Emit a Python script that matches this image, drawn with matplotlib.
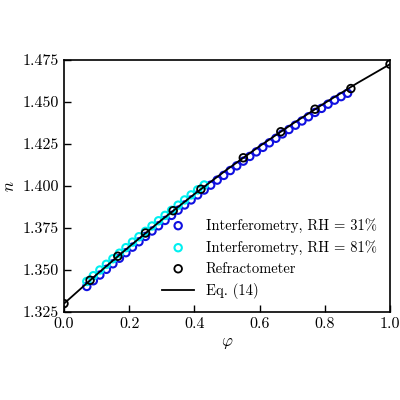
import matplotlib
matplotlib.use('Agg')
import matplotlib.pyplot as plt

plt.rcParams['font.family'] = 'serif'
plt.rcParams['font.serif'] = ['cmr10']
plt.rcParams['mathtext.fontset'] = 'cm'
plt.rcParams['axes.formatter.use_mathtext'] = True

# Interferometry, RH = 31%
phi_31 = [0.07, 0.09, 0.11, 0.13, 0.15, 0.17, 0.19, 0.21, 0.23, 0.25, 0.27, 0.29, 0.31, 0.33,
          0.35, 0.37, 0.39, 0.41, 0.43, 0.45, 0.47, 0.49, 0.51, 0.53, 0.55, 0.57, 0.59, 0.61,
          0.63, 0.65, 0.67, 0.69, 0.71, 0.73, 0.75, 0.77, 0.79, 0.81, 0.83, 0.85, 0.87]
n_31 = [1.3402, 1.3436, 1.3470, 1.3504, 1.3537, 1.3570, 1.3603, 1.3636, 1.3668, 1.3700,
        1.3732, 1.3763, 1.3795, 1.3825, 1.3856, 1.3887, 1.3917, 1.3947, 1.3976, 1.4005,
        1.4035, 1.4063, 1.4092, 1.4120, 1.4148, 1.4176, 1.4203, 1.4230, 1.4257, 1.4284,
        1.4310, 1.4336, 1.4362, 1.4387, 1.4412, 1.4438, 1.4462, 1.4487, 1.4511, 1.4532,
        1.4552]

# Interferometry, RH = 81%
phi_81 = [0.07, 0.09, 0.11, 0.13, 0.15, 0.17, 0.19, 0.21, 0.23, 0.25, 0.27, 0.29, 0.31, 0.33,
          0.35, 0.37, 0.39, 0.41, 0.43]
n_81 = [1.3432, 1.3466, 1.3500, 1.3534, 1.3567, 1.3600, 1.3633, 1.3666, 1.3698, 1.3730,
        1.3762, 1.3793, 1.3825, 1.3855, 1.3886, 1.3917, 1.3947, 1.3977, 1.4006]

# Refractometer
phi_ref = [0.0, 0.08, 0.165, 0.25, 0.335, 0.42, 0.55, 0.665, 0.77, 0.88, 1.0]
n_ref = [1.3300, 1.3439, 1.3582, 1.3720, 1.3853, 1.3981, 1.4168, 1.4323, 1.4457, 1.4580, 1.4725]

# Eq. (14)
phi_eq = [0.0, 0.1, 0.2, 0.3, 0.4, 0.5, 0.6, 0.7, 0.8, 0.9, 1.0]
n_eq = [1.3300, 1.3473, 1.3639, 1.3799, 1.3952, 1.4098, 1.4237, 1.4369, 1.4494, 1.4613, 1.4725]

fig, ax = plt.subplots(figsize=(4, 4), dpi=100)
ax.plot(phi_eq, n_eq, color='black', lw=1.3, label='Eq. (14)', zorder=4)
ax.scatter(phi_31, n_31, s=28, facecolors='none', edgecolors='#1010e0', lw=1.5,
           label='Interferometry, RH = 31%', zorder=2)
ax.scatter(phi_81, n_81, s=28, facecolors='none', edgecolors='#00f0f0', lw=1.5,
           label='Interferometry, RH = 81%', zorder=3)
ax.scatter(phi_ref, n_ref, s=30, facecolors='none', edgecolors='black', lw=1.3,
           label='Refractometer', zorder=5)

ax.set_xlim(0, 1)
ax.set_ylim(1.325, 1.475)
ax.set_xticks([0.0, 0.2, 0.4, 0.6, 0.8, 1.0])
ax.set_yticks([1.325, 1.35, 1.375, 1.4, 1.425, 1.45, 1.475])
ax.set_xticklabels(['0.0', '0.2', '0.4', '0.6', '0.8', '1.0'])
ax.set_yticklabels(['1.325', '1.350', '1.375', '1.400', '1.425', '1.450', '1.475'])
ax.tick_params(direction='in', labelsize=11.5, length=5, width=1)
for s in ax.spines.values():
    s.set_linewidth(1.2)
ax.set_xlabel(r'$\varphi$', fontsize=12)
ax.set_ylabel(r'$n$', fontsize=12)

h, l = ax.get_legend_handles_labels()
order = [1, 2, 3, 0]
ax.legend([h[i] for i in order], [l[i] for i in order], loc='lower right',
          frameon=False, fontsize=10.5, handlelength=2.2)

fig.subplots_adjust(left=0.16, right=0.975, bottom=0.22, top=0.85)
fig.savefig('out.png')
